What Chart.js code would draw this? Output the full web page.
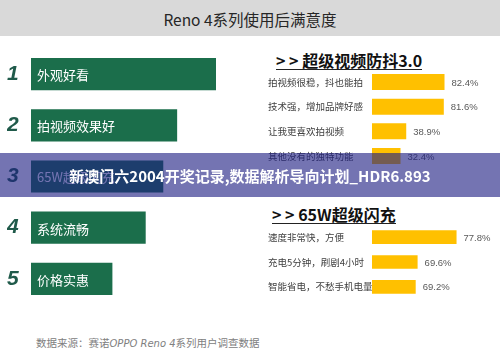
<!DOCTYPE html>
<html>
<head>
<meta charset="utf-8">
<script src="https://cdn.jsdelivr.net/npm/chart.js@4"></script>
<style>
  body { margin: 0; width: 500px; height: 353px; position: relative; overflow: hidden; background: #fff; font-family: "Noto Sans CJK SC", sans-serif; }
  canvas { position: absolute; }
  .title { position: absolute; left: 0; top: 0; width: 500px; height: 36px; background: #d9d9d9; color: #262626; font-size: 15.5px; line-height: 38px; text-align: center; }
  .heading { position: absolute; font-weight: bold; font-size: 16px; line-height: 15px; color: #111; padding-bottom: 1px; border-bottom: 1.5px solid #222; white-space: nowrap; }
  .note { position: absolute; left: 36px; top: 335px; font-size: 10.5px; color: #808080; white-space: nowrap; }
  .note i { font-family: "DejaVu Sans", sans-serif; font-size: 10px; }
  .band { position: absolute; left: 0; top: 153px; width: 500px; height: 44px; background: rgba(30, 30, 130, 0.62); color: #fff; font-weight: bold; font-size: 15px; line-height: 46px; text-align: center; }
</style>
</head>
<body>
<div class="title">Reno 4系列使用后满意度</div>
<canvas id="rankChart" width="225" height="281" style="left:0;top:36.4px"></canvas>
<div class="heading" style="left:276px;top:53px">&gt; &gt; 超级视频防抖3.0</div>
<canvas id="stabChart" width="232" height="110" style="left:268px;top:64px"></canvas>
<div class="heading" style="left:272px;top:207px">&gt; &gt; 65W超级闪充</div>
<canvas id="chargeChart" width="239" height="86" style="left:268px;top:219px"></canvas>
<div class="note">数据来源：赛诺<i>OPPO Reno 4</i>系列用户调查数据</div>
<div class="band">新澳门六2004开奖记录,数据解析导向计划_HDR6.893</div>
<script>
// 满意度排名（条长按图估计）
const rankLabels = ['1', '2', '3', '4', '5'];
const rankNames = ['外观好看', '拍视频效果好', '65W超级闪充', '系统流畅', '价格实惠'];
const rankScores = [100, 79, 71.5, 62, 44];

// 超级视频防抖3.0
const stabLabels = ['拍视频很稳，抖也能拍', '技术强，增加品牌好感', '让我更喜欢拍视频', '其他没有的独特功能'];
const stabValues = [82.4, 81.6, 38.9, 32.4];

// 65W超级闪充
const chargeLabels = ['速度非常快，方便', '充电5分钟，刷剧4小时', '智能省电，不愁手机电量'];
const chargeValues = [77.8, 69.6, 69.2];

const CJK = '"Noto Sans CJK SC", sans-serif';

// 在条内写名称
const barNamePlugin = {
    id: 'barNames',
    afterDatasetsDraw(chart) {
        const ctx = chart.ctx;
        ctx.save();
        ctx.fillStyle = '#ffffff';
        ctx.font = '13px ' + CJK;
        ctx.textBaseline = 'middle';
        chart.getDatasetMeta(0).data.forEach((bar, i) => {
            ctx.fillText(rankNames[i], bar.base + 6, bar.y + 1);
        });
        ctx.restore();
    }
};

// 条后写百分比
const pctPlugin = {
    id: 'pctLabels',
    afterDatasetsDraw(chart) {
        const ctx = chart.ctx;
        const values = chart.data.datasets[0].data;
        ctx.save();
        ctx.fillStyle = '#595959';
        ctx.font = '9.5px "Liberation Sans", Arial, sans-serif';
        ctx.textBaseline = 'middle';
        chart.getDatasetMeta(0).data.forEach((bar, i) => {
            ctx.fillText(values[i].toFixed(1) + '%', bar.x + 7, bar.y + 1);
        });
        ctx.restore();
    }
};

new Chart(document.getElementById('rankChart'), {
    type: 'bar',
    data: {
        labels: rankLabels,
        datasets: [{ data: rankScores, backgroundColor: '#1b6e4b', categoryPercentage: 1, barPercentage: 0.63 }]
    },
    options: {
        responsive: false,
        animation: false,
        indexAxis: 'y',
        layout: { padding: { left: 7, right: 9 } },
        plugins: { legend: { display: false }, tooltip: { enabled: false } },
        scales: {
            x: { display: false, min: 0, max: 100 },
            y: {
                afterFit(scale) { scale.width = 24; },
                grid: { display: false, drawTicks: false },
                border: { display: false },
                ticks: { crossAlign: 'far', color: '#1f5a4a', padding: 0, font: { family: '"Liberation Sans", Arial, sans-serif', size: 21, weight: 'bold', style: 'italic' } }
            }
        }
    },
    plugins: [barNamePlugin]
});

function smallBarChart(id, labels, values, min, max, thickness) {
    return new Chart(document.getElementById(id), {
        type: 'bar',
        data: {
            labels: labels,
            datasets: [{ data: values, backgroundColor: '#ffc000', categoryPercentage: 1, barPercentage: thickness }]
        },
        options: {
            responsive: false,
            animation: false,
            indexAxis: 'y',
            layout: { padding: { right: 40 } },
            plugins: { legend: { display: false }, tooltip: { enabled: false } },
            scales: {
                x: { display: false, min: min, max: max },
                y: {
                    afterFit(scale) { scale.width = 104; },
                    grid: { display: false, drawTicks: false },
                    border: { display: false },
                    ticks: { crossAlign: 'far', color: '#404040', padding: 0, font: { family: CJK, size: 9.5 } }
                }
            }
        },
        plugins: [pctPlugin]
    });
}

smallBarChart('stabChart', stabLabels, stabValues, 0, 100, 0.65);
smallBarChart('chargeChart', chargeLabels, chargeValues, 60, 80, 0.55);
</script>
</body>
</html>
